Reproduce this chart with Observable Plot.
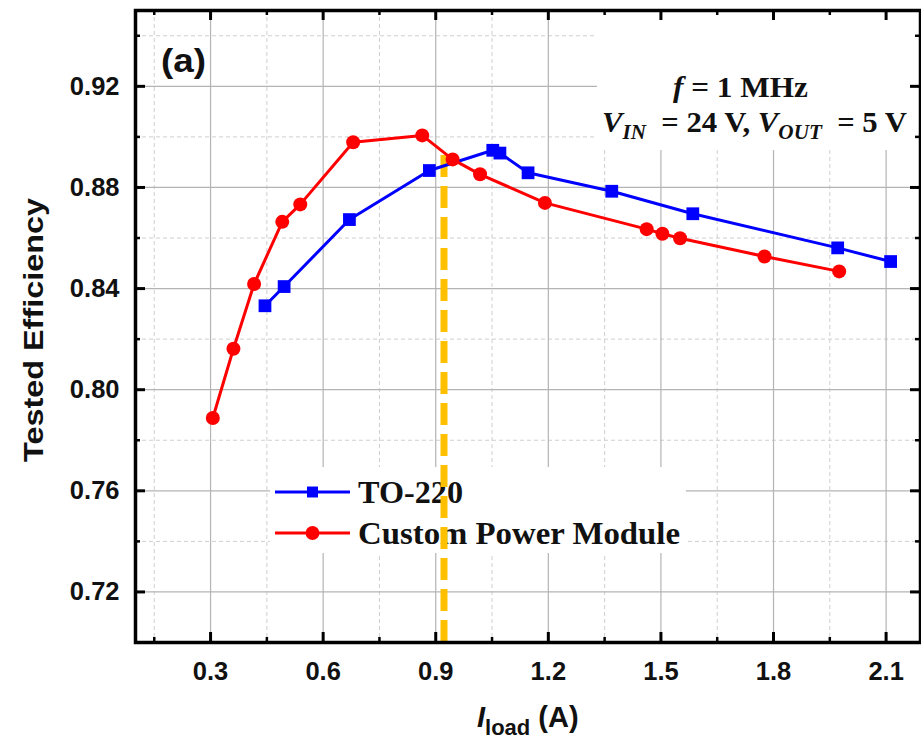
<!DOCTYPE html>
<html><head><meta charset="utf-8">
<script src="https://cdn.jsdelivr.net/npm/d3@7"></script>
<script src="https://cdn.jsdelivr.net/npm/@observablehq/plot@0.6"></script>
<style>
html,body{margin:0;padding:0;background:#fff;}
#chart svg{display:block;}
</style>
</head><body><div id="chart"></div>
<script>
// ---- data ----
const seriesNames = ["TO-220", "Custom Power Module"];
const to220Load = [0.445, 0.496, 0.670, 0.883, 1.052, 1.071, 1.146, 1.369, 1.585, 1.971, 2.112];
const to220Eff  = [0.8332, 0.8408, 0.8673, 0.8867, 0.8947, 0.8936, 0.8858, 0.8785, 0.8696, 0.8561, 0.8507];
const cpmLoad = [0.306, 0.361, 0.416, 0.491, 0.539, 0.680, 0.864, 0.945, 1.018, 1.191, 1.462, 1.504, 1.551, 1.776, 1.975];
const cpmEff  = [0.7888, 0.8162, 0.8418, 0.8664, 0.8733, 0.8979, 0.9006, 0.8911, 0.8852, 0.8739, 0.8635, 0.8617, 0.8599, 0.8527, 0.8468];
const markerLoad = [0.922];
const markerEffTop = [0.8926];
const xMajorTicks = [0.3, 0.6, 0.9, 1.2, 1.5, 1.8, 2.1];
const xMinorTicks = [0.15, 0.45, 0.75, 1.05, 1.35, 1.65, 1.95];
const yMajorTicks = [0.72, 0.76, 0.80, 0.84, 0.88, 0.92];
const yMinorTicks = [0.74, 0.78, 0.82, 0.86, 0.90, 0.94];
const xLabelMain = "I", xLabelSub = "load", xLabelUnit = " (A)";
const yLabel = "Tested Efficiency";
const panelLabel = "(a)";

// ---- layout ----
const W = 921, H = 742, mL = 135, mR = 1, mT = 10, mB = 100;
const fw = W - mL - mR, fh = H - mT - mB;
const xDomain = [0.1, 0.1 + fw / 375.3];
const yDomain = [0.70, 0.95];
const BLUE = "#0000ff", RED = "#ff0000", ORANGE = "#ffc000";

const to220 = to220Load.map((x, i) => ({x, y: to220Eff[i]}));
const cpm = cpmLoad.map((x, i) => ({x, y: cpmEff[i]}));
const marker = markerLoad.map((x, i) => ({x, y1: yDomain[0], y2: markerEffTop[i]}));

const legendBox = [{x1: 0.46, x2: 1.568, y1: 0.7352, y2: 0.7692}];
const noteBox = [{x1: 1.331, x2: xDomain[1] - 0.006, y1: 0.8946, y2: yDomain[1] - 0.001}];

const plot = Plot.plot({
  width: W, height: H,
  marginLeft: mL, marginRight: mR, marginTop: mT, marginBottom: mB,
  x: {domain: xDomain},
  y: {domain: yDomain},
  style: {fontFamily: "'Liberation Sans', Arial, sans-serif", fontWeight: "bold", color: "#111", background: "#fff"},
  marks: [
    Plot.ruleX(xMinorTicks, {stroke: "#cfcfcf", strokeDasharray: "4,3", strokeWidth: 1}),
    Plot.ruleY(yMinorTicks, {stroke: "#cfcfcf", strokeDasharray: "4,3", strokeWidth: 1}),
    Plot.ruleX(xMajorTicks, {stroke: "#b4b4b4", strokeWidth: 1.2}),
    Plot.ruleY(yMajorTicks, {stroke: "#b4b4b4", strokeWidth: 1.2}),
    Plot.rect(legendBox, {x1: "x1", x2: "x2", y1: "y1", y2: "y2", fill: "white"}),
    Plot.rect(noteBox, {x1: "x1", x2: "x2", y1: "y1", y2: "y2", fill: "white"}),
    Plot.ruleX(marker, {x: "x", y1: "y1", y2: "y2", stroke: ORANGE, strokeWidth: 7, strokeDasharray: "22,9"}),
    Plot.line(to220, {x: "x", y: "y", stroke: BLUE, strokeWidth: 3}),
    Plot.dot(to220, {x: "x", y: "y", symbol: "square", r: 7.2, fill: BLUE, stroke: "none"}),
    Plot.line(cpm, {x: "x", y: "y", stroke: RED, strokeWidth: 3}),
    Plot.dot(cpm, {x: "x", y: "y", symbol: "circle", r: 7, fill: RED, stroke: "none"}),
    // inward ticks on all four sides
    Plot.tickY(yMajorTicks, {y: d => d, insetRight: fw - 10, stroke: "black", strokeWidth: 3}),
    Plot.tickY(yMinorTicks, {y: d => d, insetRight: fw - 5, stroke: "black", strokeWidth: 2.5}),
    Plot.tickY(yMajorTicks, {y: d => d, insetLeft: fw - 10, stroke: "black", strokeWidth: 3}),
    Plot.tickY(yMinorTicks, {y: d => d, insetLeft: fw - 5, stroke: "black", strokeWidth: 2.5}),
    Plot.tickX(xMajorTicks, {x: d => d, insetTop: fh - 10, stroke: "black", strokeWidth: 3}),
    Plot.tickX(xMinorTicks, {x: d => d, insetTop: fh - 5, stroke: "black", strokeWidth: 2.5}),
    Plot.tickX(xMajorTicks, {x: d => d, insetBottom: fh - 10, stroke: "black", strokeWidth: 3}),
    Plot.tickX(xMinorTicks, {x: d => d, insetBottom: fh - 5, stroke: "black", strokeWidth: 2.5}),
    Plot.frame({stroke: "black", strokeWidth: 3.5}),
    Plot.axisX(xMajorTicks, {tickSize: 0, tickPadding: 19, tickFormat: d3.format(".1f"), fontSize: 25.5, fontWeight: "bold", label: null}),
    Plot.axisY(yMajorTicks, {tickSize: 0, tickPadding: 16, tickFormat: d3.format(".2f"), fontSize: 25.5, fontWeight: "bold", label: null})
  ]
});

document.getElementById("chart").appendChild(plot);
const svg = d3.select(plot);

// find the orange marker group so the legend sits under it
let orangeNode = null;
svg.selectAll("g").each(function() {
  const s = (this.getAttribute("stroke") || "").toLowerCase();
  if (s === ORANGE || s.includes("255, 192, 0")) orangeNode = this;
});
const legendG = orangeNode
  ? d3.select(orangeNode.parentNode).insert("g", () => orangeNode)
  : svg.append("g");
legendG.attr("text-anchor", "start");

const serif = "'Liberation Serif', 'Times New Roman', serif";
const sans = "'Liberation Sans', Arial, sans-serif";

// legend
const legendRows = [
  {name: seriesNames[0], color: BLUE, sym: d3.symbolSquare, size: 120, y: 492, len: 105},
  {name: seriesNames[1], color: RED, sym: d3.symbolCircle, size: 150, y: 533, len: 322}
];
legendRows.forEach(r => {
  legendG.append("line").attr("x1", 275).attr("x2", 350).attr("y1", r.y).attr("y2", r.y)
    .attr("stroke", r.color).attr("stroke-width", 3);
  legendG.append("path").attr("d", d3.symbol(r.sym, r.size)()).attr("transform", `translate(312.5,${r.y})`)
    .attr("fill", r.color);
  legendG.append("text").attr("x", 358).attr("y", r.y + 11).attr("text-anchor", "start").text(r.name)
    .attr("font-family", serif).attr("font-weight", "bold").attr("font-size", 32)
    .attr("textLength", r.len).attr("lengthAdjust", "spacingAndGlyphs").attr("fill", "#111");
});

// annotation
const note1 = svg.append("text").attr("x", 673).attr("y", 97).attr("text-anchor", "start")
  .attr("font-family", serif).attr("font-weight", "bold").attr("font-size", 29).attr("fill", "#111")
  .attr("textLength", 135).attr("lengthAdjust", "spacingAndGlyphs");
note1.append("tspan").attr("font-style", "italic").text("f");
note1.append("tspan").text(" = 1 MHz");
const note2 = svg.append("text").attr("x", 602).attr("y", 132).attr("text-anchor", "start")
  .attr("font-family", serif).attr("font-weight", "bold").attr("font-size", 29).attr("fill", "#111")
  .attr("textLength", 305).attr("lengthAdjust", "spacingAndGlyphs");
note2.append("tspan").attr("font-style", "italic").text("V");
note2.append("tspan").attr("font-style", "italic").attr("font-size", 20).attr("dy", 7).text("IN");
note2.append("tspan").attr("dy", -7).text("  = 24 V, ");
note2.append("tspan").attr("font-style", "italic").text("V");
note2.append("tspan").attr("font-style", "italic").attr("font-size", 20).attr("dy", 7).text("OUT");
note2.append("tspan").attr("dy", -7).text("  = 5 V");

// panel label
svg.append("text").attr("x", 161).attr("y", 72).attr("text-anchor", "start").text(panelLabel)
  .attr("font-family", sans).attr("font-weight", "bold").attr("font-size", 33)
  .attr("textLength", 45).attr("lengthAdjust", "spacingAndGlyphs").attr("fill", "#111");

// y label
svg.append("text").attr("transform", "translate(43,330) rotate(-90)").attr("text-anchor", "middle")
  .attr("font-family", sans).attr("font-weight", "bold").attr("font-size", 27).attr("fill", "#111")
  .attr("textLength", 264).attr("lengthAdjust", "spacingAndGlyphs").text(yLabel);

// x label
const xl = svg.append("text").attr("x", 477).attr("y", 727).attr("text-anchor", "start")
  .attr("font-family", sans).attr("font-weight", "bold").attr("font-size", 29).attr("fill", "#111");
xl.append("tspan").attr("font-style", "italic").text(xLabelMain);
xl.append("tspan").attr("font-size", 22).attr("dy", 8).text(xLabelSub);
xl.append("tspan").attr("dy", -8).text(xLabelUnit);
</script>
</body></html>
